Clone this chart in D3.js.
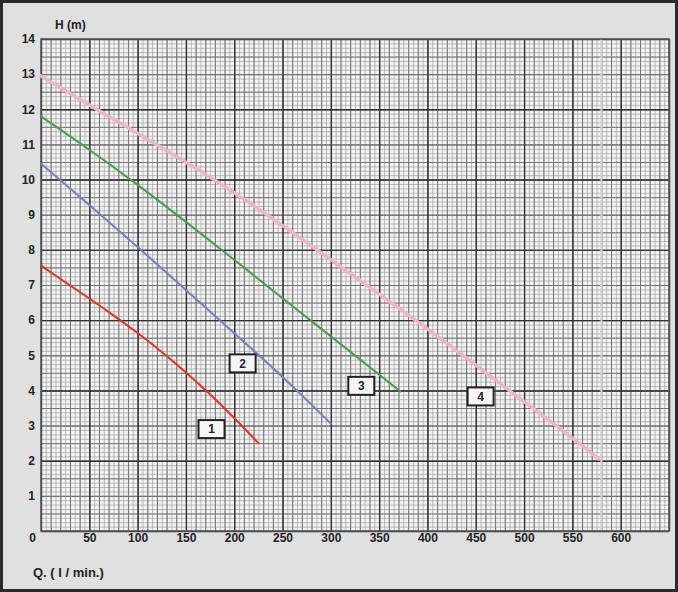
<!DOCTYPE html>
<html>
<head>
  <meta charset="utf-8">
  <style>
    body { margin: 0; background: #dedede; }
    svg { display: block; }
    svg text { font-family: "Liberation Sans", Arial, sans-serif; font-weight: bold; fill: #222; }
    .tick text { font-size: 12px; }
    .grid .domain { display: none; }
    .g5 line   { stroke: #a2a2a2; stroke-width: 0.7px; }
    .g10 line  { stroke: #6e6e6e; stroke-width: 0.9px; }
    .g50 line  { stroke: #333; stroke-width: 1.4px; }
    .curve { fill: none; stroke-linejoin: round; stroke-linecap: round; }
  </style>
</head>
<body>
<script src="https://cdn.jsdelivr.net/npm/d3@7"></script>
<script>
  // pump curves, H (m) against Q (l/min)
  var q1 = [0, 25, 50, 75, 100, 125, 150, 175, 200, 225];
  var h1 = [7.55, 7.08, 6.62, 6.14, 5.64, 5.1, 4.52, 3.9, 3.22, 2.5];

  var q2 = [0, 50, 100, 150, 200, 250, 300];
  var h2 = [10.45, 9.28, 8.09, 6.86, 5.63, 4.4, 3.06];

  var q3 = [0, 50, 100, 150, 200, 250, 300, 350, 372];
  var h3 = [11.8, 10.86, 9.86, 8.8, 7.72, 6.62, 5.54, 4.45, 3.97];

  var q4 = [0, 50, 100, 150, 200, 250, 300, 350, 400, 450, 500, 550, 577];
  var h4 = [12.95, 12.12, 11.32, 10.5, 9.64, 8.7, 7.72, 6.74, 5.76, 4.72, 3.68, 2.66, 2.05];

  var labelText = ["1", "2", "3", "4"];
  var labelQ = [176.5, 208.7, 331.5, 455];
  var labelH = [2.9, 4.77, 4.13, 3.83];

  var xTicks = [0, 50, 100, 150, 200, 250, 300, 350, 400, 450, 500, 550, 600];
  var yTicks = [1, 2, 3, 4, 5, 6, 7, 8, 9, 10, 11, 12, 13, 14];

  var W = 678, H = 592;
  var pLeft = 41, pRight = 669, pTop = 39, pBottom = 531;

  var svg = d3.select("body").append("svg")
      .attr("width", W)
      .attr("height", H);

  // page background + frame
  svg.append("rect")
      .attr("x", 1.5).attr("y", 1.5)
      .attr("width", W - 3).attr("height", H - 3)
      .style("fill", "#e0e0e0")
      .style("stroke", "#2b2b2b")
      .style("stroke-width", 3);

  var x = d3.scaleLinear().domain([0, 650]).range([pLeft, pRight]);
  var y = d3.scaleLinear().domain([0, 14]).range([pBottom, pTop]);

  svg.append("rect")
      .attr("x", pLeft).attr("y", pTop)
      .attr("width", pRight - pLeft).attr("height", pBottom - pTop)
      .style("fill", "#f3f3f3");

  // grid paper: vertical lines
  function vgrid(step, cls) {
    svg.append("g")
        .attr("class", "grid " + cls)
        .attr("transform", "translate(0," + pBottom + ")")
        .call(d3.axisBottom(x)
          .tickValues(d3.range(0, 650.1, step))
          .tickSize(-(pBottom - pTop))
          .tickFormat(""));
  }
  // grid paper: horizontal lines
  function hgrid(step, cls) {
    svg.append("g")
        .attr("class", "grid " + cls)
        .attr("transform", "translate(" + pLeft + ",0)")
        .call(d3.axisLeft(y)
          .tickValues(d3.range(0, 14.001, step))
          .tickSize(-(pRight - pLeft))
          .tickFormat(""));
  }
  vgrid(5, "g5");
  hgrid(0.125, "g5");
  vgrid(10, "g10");
  hgrid(0.5, "g10");
  hgrid(1, "g10");
  vgrid(50, "g50");
  hgrid(2, "g50");

  // pasted strip on the right of the scan
  svg.append("line")
      .attr("x1", x(580)).attr("x2", x(580))
      .attr("y1", pTop).attr("y2", pBottom)
      .style("stroke", "#d4d4d4")
      .style("stroke-width", 2);

  svg.append("rect")
      .attr("x", pLeft).attr("y", pTop)
      .attr("width", pRight - pLeft).attr("height", pBottom - pTop)
      .style("fill", "none")
      .style("stroke", "#555")
      .style("stroke-width", 1.5);

  // axis labels
  var xa = svg.append("g")
      .attr("transform", "translate(0," + (pBottom + 4) + ")")
      .call(d3.axisBottom(x).tickValues(xTicks).tickSize(0).tickPadding(2));
  xa.select(".domain").remove();
  xa.selectAll(".tick text")
      .attr("dx", function (d) { return d === 0 ? -9 : 0; })
      .attr("dy", "0.45em");

  var ya = svg.append("g")
      .attr("transform", "translate(" + (pLeft - 6) + ",0)")
      .call(d3.axisLeft(y).tickValues(yTicks).tickSize(0).tickPadding(0));
  ya.select(".domain").remove();

  svg.append("text")
      .attr("x", 55).attr("y", 29)
      .style("font-size", "12px")
      .text("H (m)");

  svg.append("text")
      .attr("x", 33).attr("y", 577)
      .style("font-size", "13px")
      .text("Q. ( l / min.)");

  // curves
  var line = d3.line()
      .x(function (d) { return x(d[0]); })
      .y(function (d) { return y(d[1]); })
      .curve(d3.curveBasis);

  function curve(qs, hs, colour, width, dash) {
    svg.append("path")
        .classed("curve", true)
        .attr("d", line(d3.zip(qs, hs)))
        .style("stroke", colour)
        .style("stroke-width", width + "px")
        .style("stroke-dasharray", dash || null);
  }
  curve(q4, h4, "#f0b4c6", 3.5, "2,1.5");
  curve(q3, h3, "#43a049", 2);
  curve(q2, h2, "#7b7dc4", 2);
  curve(q1, h1, "#e3341f", 2);

  // numbered boxes
  var boxes = svg.selectAll("g.box")
    .data(labelText)
    .enter().append("g")
      .attr("class", "box")
      .attr("transform", function (d, i) {
        return "translate(" + x(labelQ[i]) + "," + y(labelH[i]) + ")";
      });
  boxes.append("rect")
      .attr("x", -13).attr("y", -9)
      .attr("width", 26).attr("height", 18)
      .style("fill", "#f6f6f6")
      .style("stroke", "#222")
      .style("stroke-width", 2);
  boxes.append("text")
      .attr("text-anchor", "middle")
      .attr("dy", "0.36em")
      .style("font-size", "12px")
      .text(function (d) { return d; });
</script>
</body>
</html>
